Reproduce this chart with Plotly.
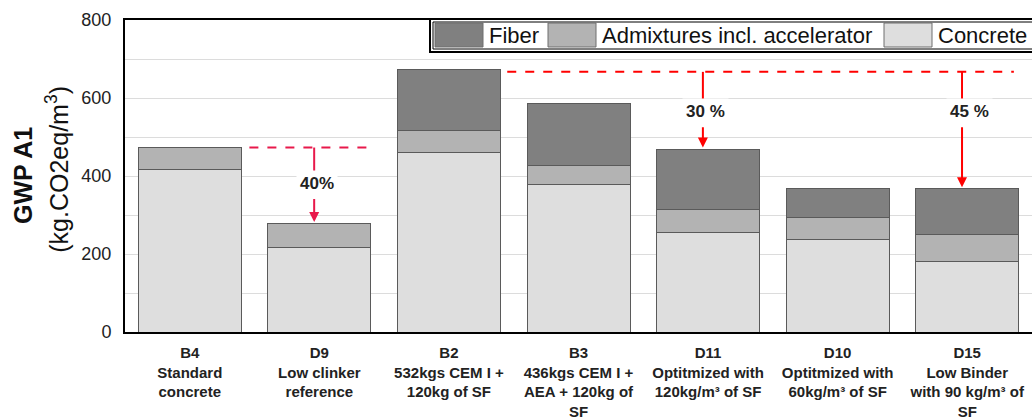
import plotly.graph_objects as go

# ---- data ----
mixes = ["B4", "D9", "B2", "B3", "D11", "D10", "D15"]
descriptions = [
    "Standard<br>concrete",
    "Low clinker<br>reference",
    "532kgs CEM I +<br>120kg of SF",
    "436kgs CEM I +<br>AEA + 120kg of<br>SF",
    "Optitmized with<br>120kg/m³ of SF",
    "Optitmized with<br>60kg/m³ of SF",
    "Low Binder<br>with 90 kg/m³ of<br>SF",
]
concrete = [417, 216, 460, 378, 256, 238, 181]
admixtures = [56, 62, 57, 50, 57, 55, 69]
fiber = [None, None, 157, 158, 156, 76, 117]

series_names = ["Fiber", "Admixtures incl. accelerator", "Concrete"]
series_colors = ["#808080", "#b3b3b3", "#dedede"]

# reduction annotations: (reference level, label, target mix)
ref_d9 = concrete[0] + admixtures[0]
ref_low = 667
reductions = [
    (ref_d9, "40%", "D9"),
    (ref_low, "30 %", "D11"),
    (ref_low, "45 %", "D15"),
]

FONT = "Liberation Sans, Arial, sans-serif"

totals = [c + a + (f or 0) for c, a, f in zip(concrete, admixtures, fiber)]

fig = go.Figure()
line = dict(color="#5a5a5a", width=1)
fig.add_trace(go.Bar(x=mixes, y=concrete, name=series_names[2],
                     marker=dict(color=series_colors[2], line=line), showlegend=False))
fig.add_trace(go.Bar(x=mixes, y=admixtures, name=series_names[1],
                     marker=dict(color=series_colors[1], line=line), showlegend=False))
fig.add_trace(go.Bar(x=mixes, y=fiber, name=series_names[0],
                     marker=dict(color=series_colors[0], line=line), showlegend=False))

# plot area geometry in page pixels (body margin is removed below)
W, H = 1032, 419
L, T, PLOT_BOTTOM = 125, 20, 332
PW, PH = W - L, PLOT_BOTTOM - T


def px_x(p):
    return (p - L) / PW


def px_y(p):
    return (PLOT_BOTTOM - p) / PH


shapes = []
annotations = []

# reduction lines / arrows
dash_spans = {ref_d9: (0.46, 1.38, "#e8194b"), ref_low: (2.45, 6.36, "#ff0000")}
for ref, (x0, x1, col) in dash_spans.items():
    shapes.append(dict(type="line", xref="x", yref="y", x0=x0, x1=x1, y0=ref, y1=ref,
                       line=dict(color=col, width=2, dash="dash")))

upx = PH / 800.0
for ref, label, mix in reductions:
    i = mixes.index(mix)
    col = dash_spans[ref][2]
    xv = i - 0.04
    text_y = ref - 36 / upx if mix == "D9" else ref - 40 / upx
    seg_end = text_y + 12 / upx
    arrow_start = text_y - 14 / upx
    shapes.append(dict(type="line", xref="x", yref="y", x0=xv, x1=xv, y0=ref, y1=seg_end,
                       line=dict(color=col, width=2)))
    annotations.append(dict(x=xv, y=totals[i] + 4, ax=xv, ay=arrow_start, xref="x", yref="y",
                            axref="x", ayref="y", text="", showarrow=True, arrowhead=2,
                            arrowsize=1, arrowwidth=2, arrowcolor=col))
    annotations.append(dict(x=xv + (0.06 if mix == "D15" else 0.02), y=text_y, xref="x", yref="y",
                            text="<b>%s</b>" % label, showarrow=False, bgcolor="white",
                            borderpad=3, font=dict(family=FONT, size=17, color="#222")))

# y axis title
annotations.append(dict(x=px_x(23), y=0.5, xref="paper", yref="paper", text="<b>GWP A1</b>",
                        textangle=-90, showarrow=False, xanchor="center", yanchor="middle",
                        font=dict(family=FONT, size=25, color="#111")))
annotations.append(dict(x=px_x(57), y=0.52, xref="paper", yref="paper",
                        text="(kg.CO2eq/m<sup>3</sup>)", textangle=-90, showarrow=False,
                        xanchor="center", yanchor="middle",
                        font=dict(family=FONT, size=25, color="#111")))

# custom legend box (double border)
shapes.append(dict(type="rect", xref="paper", yref="paper", x0=px_x(430), x1=px_x(1040),
                   y0=px_y(52), y1=px_y(19), fillcolor="white", line=dict(color="black", width=2),
                   layer="above"))
shapes.append(dict(type="rect", xref="paper", yref="paper", x0=px_x(433), x1=px_x(1040),
                   y0=px_y(49), y1=px_y(22), line=dict(color="black", width=1), layer="above"))
swatch_left = [435, 548, 884]
for name, color, sx in zip(series_names, series_colors, swatch_left):
    shapes.append(dict(type="rect", xref="paper", yref="paper", x0=px_x(sx), x1=px_x(sx + 48),
                       y0=px_y(47), y1=px_y(23), fillcolor=color,
                       line=dict(color="#6e6e6e", width=1), layer="above"))
    annotations.append(dict(x=px_x(sx + 52), y=px_y(35.5), xref="paper", yref="paper", text=name,
                            showarrow=False, xanchor="left", yanchor="middle",
                            font=dict(family=FONT, size=22, color="#111")))

fig.update_layout(
    width=W, height=H,
    margin=dict(l=L, r=0, t=T, b=H - PLOT_BOTTOM, autoexpand=False),
    barmode="stack", bargap=0.205,
    plot_bgcolor="white", paper_bgcolor="white",
    font=dict(family=FONT, color="#222"),
    shapes=shapes, annotations=annotations,
    showlegend=False,
)
fig.update_xaxes(
    tickvals=mixes,
    ticktext=["<b>%s<br>%s</b>" % (m, d) for m, d in zip(mixes, descriptions)],
    tickfont=dict(family=FONT, size=15, color="#222"),
    showline=True, linecolor="black", linewidth=2, mirror=True,
    ticks="", range=[-0.5, 6.5], ticklabelstandoff=6, automargin=False,
)
fig.update_yaxes(
    range=[0, 800], dtick=200, tick0=0,
    tickfont=dict(family=FONT, size=18, color="#222"),
    showgrid=True, gridcolor="#dcdcdc", gridwidth=1,
    minor=dict(dtick=100, showgrid=True, gridcolor="#dcdcdc", gridwidth=1),
    showline=True, linecolor="black", linewidth=2,
    ticks="", ticklabelstandoff=8, zeroline=False, automargin=False,
)

fig.write_html(
    "out.html",
    config={"displayModeBar": False},
    post_script="document.body.style.margin='0';document.body.style.overflow='hidden';",
)
